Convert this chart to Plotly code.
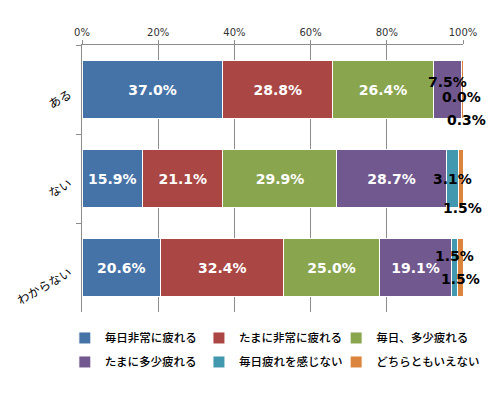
import plotly.graph_objects as go

categories = ["ある", "ない", "わからない"]
series_names = ["毎日非常に疲れる", "たまに非常に疲れる", "毎日、多少疲れる",
                "たまに多少疲れる", "毎日疲れを感じない", "どちらともいえない"]
v_aru = [37.0, 28.8, 26.4, 7.5, 0.0, 0.3]
v_nai = [15.9, 21.1, 29.9, 28.7, 3.1, 1.5]
v_wakaranai = [20.6, 32.4, 25.0, 19.1, 1.5, 1.5]
tick_vals = [0, 20, 40, 60, 80, 100]
tick_text = ["0%", "20%", "40%", "60%", "80%", "100%"]

colors = ["#4572A7", "#AA4643", "#89A54E", "#71588F", "#4198AF", "#DB843D"]
rows = [v_aru, v_nai, v_wakaranai]

# pixel offsets for the small outside labels (style only): (category idx, series idx) -> (xshift, yshift)
small_offsets = {
    (0, 3): (0, 8), (0, 4): (0, -7), (0, 5): (4, -30),
    (1, 4): (0, 0), (1, 5): (2, -29),
    (2, 4): (0, 12), (2, 5): (0, -11),
}

NUM_FONT = "DejaVu Sans"
legend_ids = ["legend", "legend2", "legend3"]

fig = go.Figure()
for s, name in enumerate(series_names):
    vals = [r[s] for r in rows]
    texts = [f"{v:.1f}%" if v >= 10 else "" for v in vals]
    fig.add_trace(go.Bar(
        y=categories, x=vals, name=name, orientation="h",
        legend=legend_ids[s % 3], legendgroup=f"g{s}",
        marker=dict(color=colors[s], line=dict(color="white", width=1)),
        text=texts, texttemplate="<b>%{text}</b>",
        textposition="inside", insidetextanchor="middle",
        textfont=dict(color="white", size=14, family=NUM_FONT),
        textangle=0, hoverinfo="skip",
    ))

annotations = []
for (c, s), (dx, dy) in small_offsets.items():
    r = rows[c]
    start = sum(r[:s])
    center = start + r[s] / 2
    annotations.append(dict(
        x=center, y=categories[c], xref="x", yref="y",
        text=f"<b>{r[s]:.1f}%</b>", showarrow=False,
        xshift=dx, yshift=dy,
        font=dict(color="black", size=14, family=NUM_FONT),
    ))

legend_style = dict(orientation="v", xanchor="left", y=-0.043, yanchor="top",
                    font=dict(size=11.5, family="Noto Sans CJK JP", color="black", weight=500),
                    traceorder="grouped", itemwidth=30, tracegroupgap=5,
                    bgcolor="rgba(0,0,0,0)")

fig.update_layout(
    barmode="stack", bargap=0.35,
    width=499, height=398,
    margin=dict(l=74, r=44, t=37, b=94),
    paper_bgcolor="white", plot_bgcolor="white",
    font=dict(family="Noto Sans CJK JP", color="black"),
    annotations=annotations,
    showlegend=True,
    legend=dict(x=-0.045, **legend_style),
    legend2=dict(x=0.307, **legend_style),
    legend3=dict(x=0.667, **legend_style),
)

fig.update_xaxes(
    side="top", range=[0, 100], tickvals=tick_vals, ticktext=tick_text,
    showgrid=True, gridcolor="#8c8c8c", gridwidth=1,
    showline=True, linecolor="#8c8c8c", ticks="outside", tickcolor="#8c8c8c",
    ticklen=4, tickfont=dict(size=10, color="#333333", family="DejaVu Sans"),
    zeroline=False, fixedrange=True, automargin=False,
)
fig.update_yaxes(
    autorange="reversed", showline=True, linecolor="#8c8c8c",
    ticks="outside", tickson="boundaries", tickcolor="#8c8c8c", ticklen=5,
    tickangle=-30, ticklabelstandoff=9, ticklabelshift=-4,
    tickfont=dict(size=12, family="Noto Sans CJK JP", color="black"),
    showgrid=False, fixedrange=True, automargin=False,
)

fig.write_html("out.html")
